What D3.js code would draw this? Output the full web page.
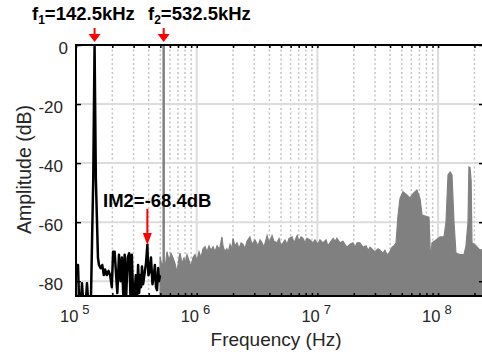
<!DOCTYPE html>
<html><head><meta charset="utf-8">
<script src="https://cdn.jsdelivr.net/npm/d3@7/dist/d3.min.js"></script>
<style>
html,body{margin:0;padding:0;background:#fff;}
svg{display:block;font-family:"Liberation Sans",Arial,Helvetica,sans-serif;}
</style></head>
<body>
<svg id="chart" width="482" height="358"></svg>
<script>
// ---- data ----
const xTickValues = [1e5, 1e6, 1e7, 1e8];
const xTickExponents = ["5", "6", "7", "8"];
const yTickValues = [0, -20, -40, -60, -80];
const yTickLabels = ["0", "-20", "-40", "-60", "-80"];
const xDomain = [1e5, 2.4e8];
const yDomain = [-85, 0];

const f1 = 142.5e3;
const f2 = 532.5e3;
const fIM2 = 390e3;
const im2Value = -68.4;

// black trace (low band) : frequency (Hz), amplitude (dB)
const blackFreq = [1e5, 1.039e5, 1.059e5, 1.1e5, 1.121e5, 1.143e5, 1.21e5, 1.233e5, 1.257e5, 1.306e5, 1.33e5,
  1.39e5, 1.425e5, 1.46e5, 1.52e5, 1.55e5, 1.6e5, 1.65e5, 1.7e5, 1.74e5, 1.8e5, 1.86e5, 1.92e5, 1.98e5, 2.03e5,
  2.09e5, 2.15e5, 2.2e5, 2.27e5, 2.34e5, 2.4e5, 2.47e5, 2.53e5, 2.6e5, 2.68e5, 2.76e5, 2.83e5, 2.9e5, 2.98e5,
  3.06e5, 3.13e5, 3.2e5, 3.27e5, 3.33e5, 3.42e5, 3.46e5, 3.52e5, 3.6e5, 3.68e5, 3.8e5, 3.9e5, 3.98e5, 4.06e5,
  4.18e5, 4.3e5, 4.42e5, 4.5e5, 4.6e5, 4.69e5, 4.8e5, 4.87e5, 4.97e5];
const blackDb = [-74.5, -74.5, -86, -86, -80.7, -86, -86, -80.7, -86, -86, -86,
  -45, 0, -45, -72, -74.5, -75.6, -74.5, -77.9, -76, -77.9, -76.5, -78, -82, -70,
  -70, -78, -84, -71, -80, -72, -86, -71, -86, -72, -70.5, -86, -71, -86,
  -84, -78, -86, -74.5, -84, -77.9, -82, -75, -81, -78, -74, -67.7, -78, -77,
  -72, -81, -78, -74.5, -82, -83, -75.5, -80, -78];

// grey trace (high band) upper envelope: frequency (Hz), amplitude (dB)
const greyFreq = [4.97e5, 5.16e5, 5.36e5, 5.46e5, 5.67e5, 5.90e5, 6.12e5, 6.36e5, 6.61e5, 6.87e5, 7.14e5, 7.27e5,
  7.56e5, 7.85e5, 8.0e5, 8.31e5, 8.63e5, 8.97e5, 9.32e5, 9.68e5, 1.006e6, 1.045e6, 1.086e6, 1.128e6, 1.172e6,
  1.218e6, 1.265e6, 1.314e6, 1.366e6, 1.419e6, 1.474e6, 1.531e6, 1.56e6, 1.62e6, 1.65e6, 1.71e6, 1.78e6, 1.816e6,
  1.89e6, 1.96e6, 2.0e6, 2.07e6, 2.16e6, 2.24e6, 2.33e6, 2.42e6, 2.51e6, 2.61e6, 2.76e6, 2.87e6, 3.04e6, 3.22e6,
  3.35e6, 3.48e6, 3.61e6, 3.83e6, 3.98e6, 4.21e6, 4.37e6, 4.63e6, 4.81e6, 5.0e6, 5.39e6, 5.6e6, 5.82e6, 6.17e6,
  6.41e6, 6.79e6, 7.04e6, 7.32e6, 7.6e6, 7.89e6, 8.2e6, 8.68e6, 9.2e6, 9.55e6, 1.01e7, 1.051e7, 1.11e7, 1.18e7,
  1.22e7, 1.27e7, 1.35e7, 1.40e7, 1.45e7, 1.54e7, 1.63e7, 1.69e7, 1.76e7, 1.86e7, 1.97e7, 2.05e7, 2.13e7, 2.25e7,
  2.39e7, 2.53e7, 2.63e7, 2.73e7, 2.90e7, 3.0e7, 3.18e7, 3.30e7, 3.49e7, 3.63e7, 3.77e7, 3.92e7, 4.15e7, 4.31e7,
  4.48e7, 4.65e7, 4.83e7, 5.12e7, 5.42e7, 5.85e7, 6.31e7, 6.68e7, 7.08e7, 7.36e7, 7.94e7, 8.41e7, 8.65e7, 8.9e7,
  9.61e7, 1.037e8, 1.119e8, 1.163e8, 1.208e8, 1.256e8, 1.303e8, 1.354e8, 1.406e8, 1.519e8, 1.639e8, 1.702e8,
  1.769e8, 1.80e8, 1.837e8, 1.878e8, 1.908e8, 2.06e8, 2.22e8, 2.4e8];
const greyDb = [-71.7, -75, -73, -76, -70, -73, -70.5, -72, -74, -77, -72, -70.5,
  -74, -72, -74, -71, -73, -75, -72, -71, -73, -70, -72, -69, -68.3,
  -70, -68, -69.5, -68.3, -70, -68, -69, -68.5, -65, -68, -70, -69, -70.5,
  -67.5, -69, -65.5, -68, -67, -69, -67, -67.5, -69, -66.5, -65, -67.5, -66, -68,
  -66, -67, -68.5, -64.5, -67, -64.5, -66.5, -67, -65.5, -68, -66, -67.5, -65.5, -65,
  -67, -64.5, -66.5, -65, -65.5, -67, -65.5, -66, -67, -66, -67.5, -66, -67, -66,
  -68, -67, -65.5, -66.5, -65.5, -67, -66.5, -67.5, -68.5, -67.5, -67, -68.5, -67, -67,
  -68.5, -68, -69.5, -68.5, -69.5, -70, -69, -69.5, -70.5, -69.5, -71, -70.5, -68.5, -68,
  -67, -58, -52, -49.7, -50.5, -51.8, -50, -49.1, -52, -57.6, -58, -58.3, -72.8, -67,
  -66, -65, -65, -60, -44, -43, -44, -60, -70.5, -71, -71, -68,
  -60, -41.3, -41.5, -46, -67, -68, -69.5, -69];

// ---- layout ----
const svg = d3.select("#chart");
const L = 76, R = 484, T = 45, B = 296;
const x = d3.scaleLog().domain(xDomain).range([L, R]);
const y = d3.scaleLinear().domain(yDomain).range([B, T]);

svg.append("defs").append("clipPath").attr("id", "plotclip")
  .append("rect").attr("x", L).attr("y", T).attr("width", R - L).attr("height", B - T);

// minor grid values
const minorVals = [];
for (let d = 1e5; d <= 1e8; d *= 10) {
  for (let k = 2; k <= 9; k++) { const v = k * d; if (v < xDomain[1]) minorVals.push(v); }
}

const grid = svg.append("g");
grid.selectAll("line.minor").data(minorVals).join("line")
  .attr("x1", d => x(d)).attr("x2", d => x(d)).attr("y1", T).attr("y2", B)
  .attr("stroke", "#c4c4c4").attr("stroke-width", 1.5).attr("stroke-dasharray", "2,2.5");
grid.selectAll("line.majx").data(xTickValues.slice(1)).join("line")
  .attr("x1", d => x(d)).attr("x2", d => x(d)).attr("y1", T).attr("y2", B)
  .attr("stroke", "#dcdcdc").attr("stroke-width", 2);
grid.selectAll("line.majy").data(yTickValues.slice(1)).join("line")
  .attr("x1", L).attr("x2", R).attr("y1", d => y(d)).attr("y2", d => y(d))
  .attr("stroke", "#dcdcdc").attr("stroke-width", 2);

// data
const plot = svg.append("g").attr("clip-path", "url(#plotclip)");
const greyData = greyFreq.map((f, i) => [f, greyDb[i]]);
plot.append("path").datum(greyData)
  .attr("d", d3.area().x(d => x(d[0])).y0(y(-90)).y1(d => y(d[1])))
  .attr("fill", "#808080").attr("stroke", "#808080").attr("stroke-width", 1.2).attr("stroke-linejoin", "miter");
plot.append("line").attr("x1", x(f2)).attr("x2", x(f2)).attr("y1", y(0)).attr("y2", y(-90))
  .attr("stroke", "#808080").attr("stroke-width", 2.5);
const blackData = blackFreq.map((f, i) => [f, blackDb[i]]);
plot.append("path").datum(blackData)
  .attr("d", d3.line().x(d => x(d[0])).y(d => y(d[1])))
  .attr("fill", "none").attr("stroke", "#000").attr("stroke-width", 2.5).attr("stroke-linejoin", "round");

// axes
const axG = svg.append("g");
function styleAxis(g) {
  g.select(".domain").remove();
  g.selectAll(".tick line").attr("stroke", "#000").attr("stroke-width", 1.5);
  g.selectAll(".tick text").remove();
}
axG.append("g").attr("transform", `translate(${L},0)`)
  .call(d3.axisLeft(y).tickValues(yTickValues).tickSize(-5)).call(styleAxis);
axG.append("g").attr("transform", `translate(${R},0)`)
  .call(d3.axisRight(y).tickValues(yTickValues).tickSize(-5)).call(styleAxis);
axG.append("g").attr("transform", `translate(0,${T})`)
  .call(d3.axisTop(x).tickValues(xTickValues.concat(minorVals)).tickSize(-3)).call(styleAxis);
axG.append("g").attr("transform", `translate(0,${B})`)
  .call(d3.axisBottom(x).tickValues(xTickValues.concat(minorVals)).tickSize(-3)).call(styleAxis);
axG.append("rect").attr("x", L).attr("y", T).attr("width", R - L).attr("height", B - T)
  .attr("fill", "none").attr("stroke", "#000").attr("stroke-width", 2);

// y tick labels
svg.append("g").selectAll("text").data(yTickValues).join("text")
  .attr("x", d => d === 0 ? 68 : 63).attr("y", d => y(d) + 8.5).attr("text-anchor", "end")
  .attr("font-size", 17).attr("fill", "#262626")
  .text((d, i) => yTickLabels[i]);

// x tick labels
const xl = svg.append("g").selectAll("text").data(xTickValues).join("text")
  .attr("x", d => x(d) - 16).attr("y", 322).attr("font-size", 16.5).attr("fill", "#262626");
xl.append("tspan").text("10");
xl.append("tspan").attr("dx", 4).attr("dy", -8).attr("font-size", 13).text((d, i) => xTickExponents[i]);

// axis titles
svg.append("text").attr("x", (L + R) / 2 - 4).attr("y", 346).attr("text-anchor", "middle")
  .attr("font-size", 19).attr("fill", "#262626").text("Frequency (Hz)");
svg.append("text").attr("transform", `translate(31,${(T + B) / 2 - 1}) rotate(-90)`)
  .attr("text-anchor", "middle").attr("font-size", 19.5).attr("fill", "#262626").text("Amplitude (dB)");

// annotations
function arrow(xp, y0, y1, hw, hh) {
  svg.append("line").attr("x1", xp).attr("x2", xp).attr("y1", y0).attr("y2", y1 - hh + 1)
    .attr("stroke", "#ff0000").attr("stroke-width", 2);
  svg.append("path").attr("d", `M${xp - hw},${y1 - hh} L${xp + hw},${y1 - hh} L${xp},${y1} Z`)
    .attr("fill", "#ff0000");
}
arrow(x(f1), 28, 42, 6, 8);
arrow(x(f2), 28, 42, 6, 8);
arrow(x(fIM2), 209, y(im2Value) - 2, 4.5, 12);

function fLabel(xp, sub, val) {
  const t = svg.append("text").attr("x", xp).attr("y", 20).attr("font-size", 18.5)
    .attr("font-weight", "bold").attr("fill", "#000");
  t.append("tspan").text("f");
  t.append("tspan").attr("dy", 4).attr("font-size", 12).text(sub);
  t.append("tspan").attr("dy", -4).text("=" + val);
}
fLabel(32, "1", "142.5kHz");
fLabel(148, "2", "532.5kHz");

svg.append("text").attr("x", 103).attr("y", 207).attr("font-size", 18.5)
  .attr("font-weight", "bold").attr("fill", "#000").text("IM2=" + im2Value + "dB");
</script>
</body></html>
